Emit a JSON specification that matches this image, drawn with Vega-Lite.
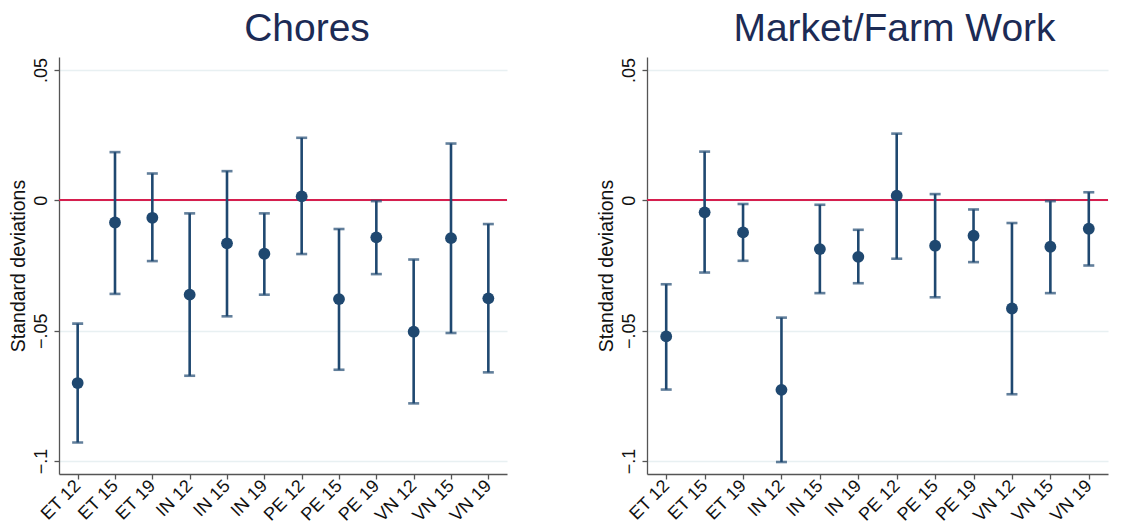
{
  "$schema": "https://vega.github.io/schema/vega-lite/v6.json",
  "background": "white",
  "padding": {"left": 8, "top": 10, "right": 0, "bottom": 0},
  "spacing": 88,
  "config": {
    "font": "Liberation Sans",
    "view": {"stroke": null},
    "axis": {"labelFont": "Liberation Sans", "titleFont": "Liberation Sans", "labelColor": "#111", "titleColor": "#111", "domainColor": "#555", "tickColor": "#555", "domainWidth": 1.3, "tickWidth": 1.3, "tickSize": 5},
    "title": {"font": "Liberation Sans", "fontSize": 39, "fontWeight": "normal", "color": "#1c2b55", "frame": "group", "anchor": "middle", "baseline": "alphabetic", "offset": 8}
  },
  "datasets": {
    "est": [
      {"panel": "Chores", "wave": "ET 12", "est": -0.0701, "lo": -0.0929, "hi": -0.0473},
      {"panel": "Chores", "wave": "ET 15", "est": -0.0085, "lo": -0.0359, "hi": 0.0185},
      {"panel": "Chores", "wave": "ET 19", "est": -0.0067, "lo": -0.0233, "hi": 0.0103},
      {"panel": "Chores", "wave": "IN 12", "est": -0.0362, "lo": -0.0673, "hi": -0.0050},
      {"panel": "Chores", "wave": "IN 15", "est": -0.0165, "lo": -0.0445, "hi": 0.0112},
      {"panel": "Chores", "wave": "IN 19", "est": -0.0205, "lo": -0.0362, "hi": -0.0050},
      {"panel": "Chores", "wave": "PE 12", "est": 0.0015, "lo": -0.0206, "hi": 0.0240},
      {"panel": "Chores", "wave": "PE 15", "est": -0.0379, "lo": -0.0650, "hi": -0.0110},
      {"panel": "Chores", "wave": "PE 19", "est": -0.0142, "lo": -0.0283, "hi": -0.0003},
      {"panel": "Chores", "wave": "VN 12", "est": -0.0504, "lo": -0.0779, "hi": -0.0227},
      {"panel": "Chores", "wave": "VN 15", "est": -0.0145, "lo": -0.0509, "hi": 0.0218},
      {"panel": "Chores", "wave": "VN 19", "est": -0.0376, "lo": -0.0660, "hi": -0.0091},
      {"panel": "Market", "wave": "ET 12", "est": -0.0522, "lo": -0.0726, "hi": -0.0322},
      {"panel": "Market", "wave": "ET 15", "est": -0.0046, "lo": -0.0277, "hi": 0.0187},
      {"panel": "Market", "wave": "ET 19", "est": -0.0123, "lo": -0.0232, "hi": -0.0014},
      {"panel": "Market", "wave": "IN 12", "est": -0.0727, "lo": -0.1004, "hi": -0.0450},
      {"panel": "Market", "wave": "IN 15", "est": -0.0187, "lo": -0.0356, "hi": -0.0017},
      {"panel": "Market", "wave": "IN 19", "est": -0.0217, "lo": -0.0318, "hi": -0.0113},
      {"panel": "Market", "wave": "PE 12", "est": 0.0018, "lo": -0.0224, "hi": 0.0256},
      {"panel": "Market", "wave": "PE 15", "est": -0.0174, "lo": -0.0372, "hi": 0.0024},
      {"panel": "Market", "wave": "PE 19", "est": -0.0136, "lo": -0.0237, "hi": -0.0035},
      {"panel": "Market", "wave": "VN 12", "est": -0.0415, "lo": -0.0744, "hi": -0.0087},
      {"panel": "Market", "wave": "VN 15", "est": -0.0178, "lo": -0.0356, "hi": -0.0003},
      {"panel": "Market", "wave": "VN 19", "est": -0.0109, "lo": -0.0250, "hi": 0.0031}
    ]
  },
  "hconcat": [
    {
      "title": {"text": "Chores", "dx": 24},
      "width": 448,
      "height": 417,
      "data": {"name": "est"},
      "transform": [{"filter": "datum.panel === 'Chores'"}],
      "encoding": {
        "x": {"field": "wave", "type": "nominal", "sort": null, "scale": {"type": "point", "padding": 0.5}, "axis": {"title": null, "labelAngle": -45, "labelAlign": "right", "labelBaseline": "middle", "labelFontSize": 18, "labelPadding": 4, "grid": false}}
      },
      "layer": [
        {
          "mark": {"type": "rule", "color": "#d51f4e", "strokeWidth": 1.5},
          "encoding": {"x": null, "y": {"datum": 0, "type": "quantitative", "scale": {"domain": [-0.105, 0.055], "nice": false, "zero": false}, "axis": {"title": "Standard deviations", "titleFontSize": 19.5, "titleFontWeight": "normal", "titlePadding": 4, "values": [-0.1, -0.05, 0, 0.05], "labelExpr": "datum.value == 0 ? '0' : replace(format(datum.value, '.2~f'), '0.', '.')", "labelAngle": 270, "labelAlign": "center", "labelBaseline": "bottom", "labelPadding": 4, "labelFontSize": 18, "grid": true, "gridColor": "#e8f0f2", "gridWidth": 1.3}}}
        },
        {
          "mark": {"type": "rule", "color": "#1f4870", "strokeWidth": 2.6},
          "encoding": {"y": {"field": "lo", "type": "quantitative"}, "y2": {"field": "hi"}}
        },
        {
          "mark": {"type": "tick", "color": "#1f4870", "thickness": 2.6, "size": 11},
          "encoding": {"y": {"field": "lo", "type": "quantitative"}}
        },
        {
          "mark": {"type": "tick", "color": "#1f4870", "thickness": 2.6, "size": 11},
          "encoding": {"y": {"field": "hi", "type": "quantitative"}}
        },
        {
          "mark": {"type": "point", "filled": true, "opacity": 1, "color": "#1f4870", "size": 140},
          "encoding": {"y": {"field": "est", "type": "quantitative"}}
        }
      ]
    },
    {
      "title": {"text": "Market/Farm Work", "dx": 17},
      "width": 461,
      "height": 417,
      "data": {"name": "est"},
      "transform": [{"filter": "datum.panel === 'Market'"}],
      "encoding": {
        "x": {"field": "wave", "type": "nominal", "sort": null, "scale": {"type": "point", "padding": 0.5}, "axis": {"title": null, "labelAngle": -45, "labelAlign": "right", "labelBaseline": "middle", "labelFontSize": 18, "labelPadding": 4, "grid": false}}
      },
      "layer": [
        {
          "mark": {"type": "rule", "color": "#d51f4e", "strokeWidth": 1.5},
          "encoding": {"x": null, "y": {"datum": 0, "type": "quantitative", "scale": {"domain": [-0.105, 0.055], "nice": false, "zero": false}, "axis": {"title": "Standard deviations", "titleFontSize": 19.5, "titleFontWeight": "normal", "titlePadding": 4, "values": [-0.1, -0.05, 0, 0.05], "labelExpr": "datum.value == 0 ? '0' : replace(format(datum.value, '.2~f'), '0.', '.')", "labelAngle": 270, "labelAlign": "center", "labelBaseline": "bottom", "labelPadding": 4, "labelFontSize": 18, "grid": true, "gridColor": "#e8f0f2", "gridWidth": 1.3}}}
        },
        {
          "mark": {"type": "rule", "color": "#1f4870", "strokeWidth": 2.6},
          "encoding": {"y": {"field": "lo", "type": "quantitative"}, "y2": {"field": "hi"}}
        },
        {
          "mark": {"type": "tick", "color": "#1f4870", "thickness": 2.6, "size": 11},
          "encoding": {"y": {"field": "lo", "type": "quantitative"}}
        },
        {
          "mark": {"type": "tick", "color": "#1f4870", "thickness": 2.6, "size": 11},
          "encoding": {"y": {"field": "hi", "type": "quantitative"}}
        },
        {
          "mark": {"type": "point", "filled": true, "opacity": 1, "color": "#1f4870", "size": 140},
          "encoding": {"y": {"field": "est", "type": "quantitative"}}
        }
      ]
    }
  ]
}
